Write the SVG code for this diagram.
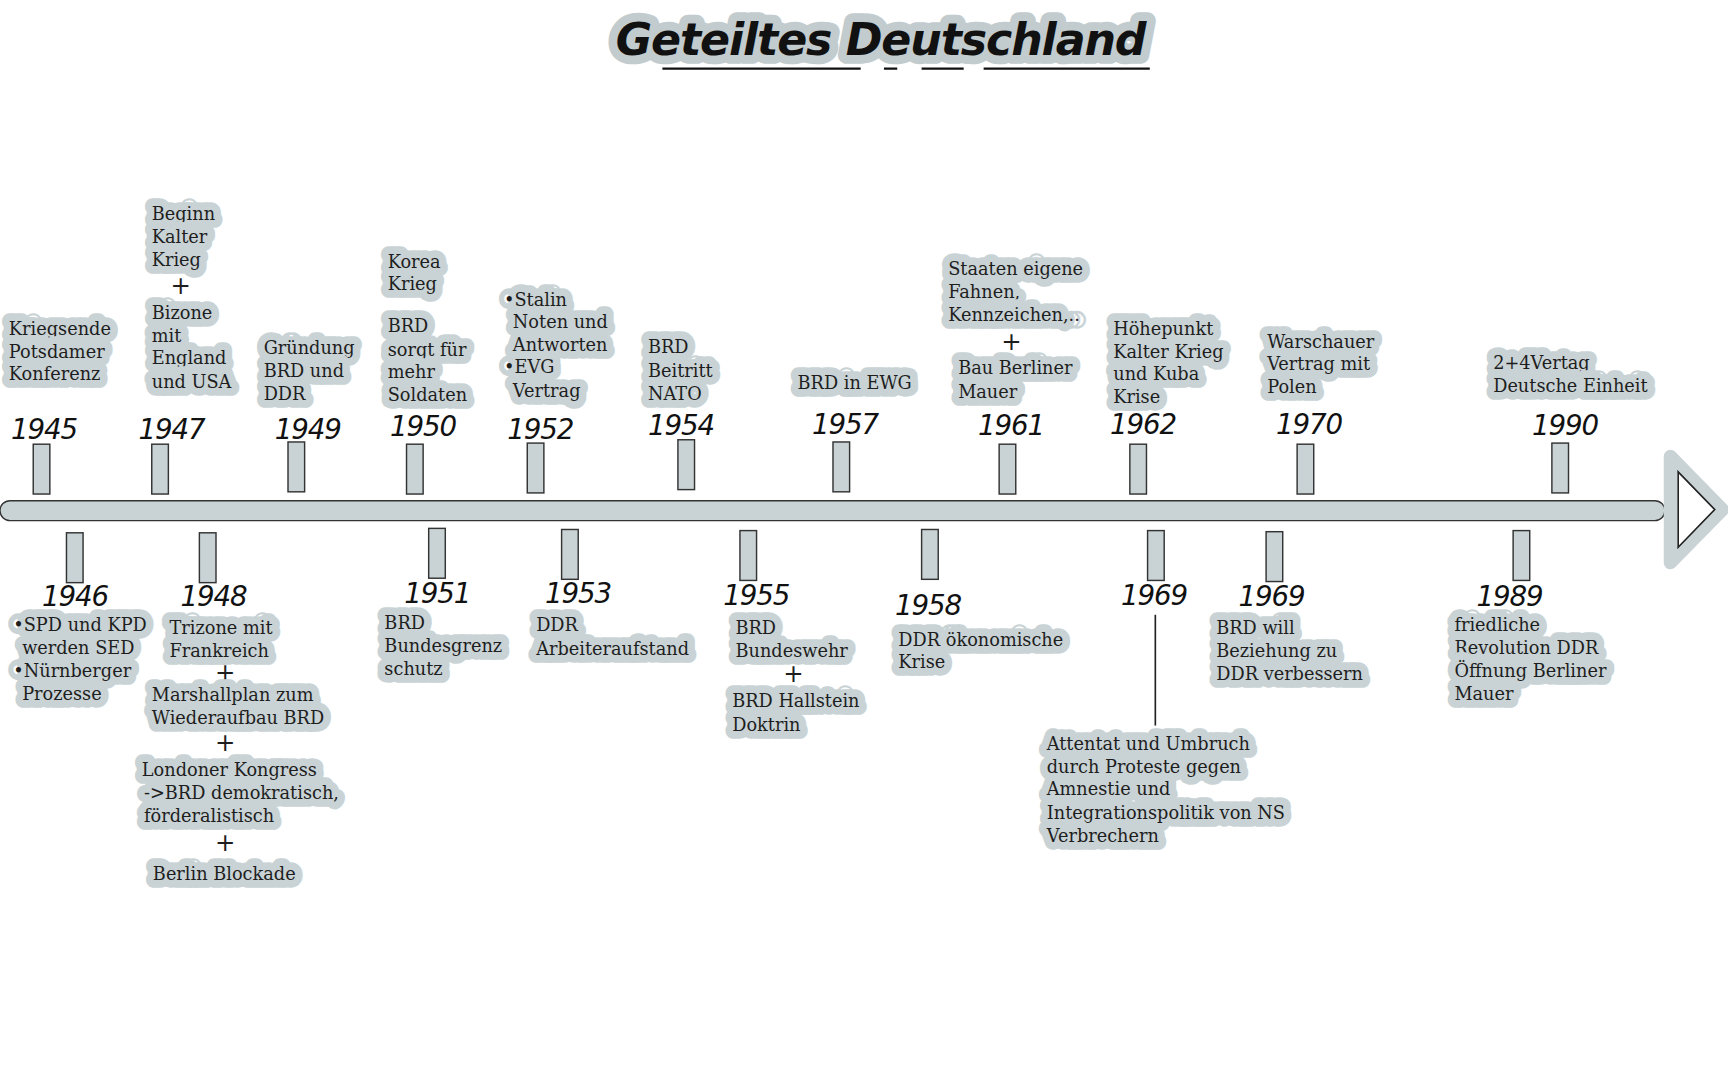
<svg xmlns="http://www.w3.org/2000/svg" width="1728" height="1080" viewBox="0 0 1728 1080">
<style>
.t{font-family:"DejaVu Serif",serif;font-size:16px;fill:#1e1e1e;stroke:#c9d3d5;stroke-width:14px;stroke-linejoin:round;paint-order:stroke}
.p{font-family:"DejaVu Sans",sans-serif;font-size:22px;fill:#1e1e1e}
.y{font-family:"DejaVu Sans",sans-serif;font-style:italic;font-size:25px;fill:#111;letter-spacing:-1px}
.b{fill:#c9d3d5;stroke:#333;stroke-width:1.3}
</style>
<rect width="1728" height="1080" fill="#fff"/>
<g transform="scale(1.1077)">
<g id="title">
<text x="795" y="50" text-anchor="middle" font-family="DejaVu Sans,sans-serif" font-style="italic" font-weight="bold" font-size="40" letter-spacing="-1" fill="#111" stroke="#c2cbcd" stroke-width="16" stroke-linejoin="round" paint-order="stroke">Geteiltes Deutschland</text>
<path d="M598 62H777M798 62H810M832 62H870M888 62H1038" stroke="#111" stroke-width="2" fill="none"/>
</g>
<g id="timeline">
<rect x="0" y="452" width="1503" height="18" rx="9" class="b"/>
<path d="M1508 412L1555 460L1508 508Z" fill="#fff" stroke="#c9d3d5" stroke-width="12" stroke-linejoin="round"/>
<path d="M1515 426L1548 460L1515 494Z" fill="#fff" stroke="#222" stroke-width="1.5"/>
</g>
<g id="connectors">
<line x1="1043" y1="555" x2="1043" y2="655" stroke="#222" stroke-width="1.5"/>
</g>
<g id="n1945"><rect x="30" y="401" width="15" height="45" class="b"/><text class="y" x="10" y="396">1945</text>
<text class="t" x="8" y="302">Kriegsende</text><text class="t" x="8" y="323">Potsdamer</text><text class="t" x="8" y="343">Konferenz</text></g>
<g id="n1947"><rect x="137" y="401" width="15" height="45" class="b"/><text class="y" x="125" y="396">1947</text>
<text class="t" x="137" y="199">Beginn</text><text class="t" x="137" y="219">Kalter</text><text class="t" x="137" y="240">Krieg</text><text class="p" x="154" y="265">+</text><text class="t" x="137" y="288">Bizone</text><text class="t" x="137" y="309">mit</text><text class="t" x="137" y="329">England</text><text class="t" x="137" y="350">und USA</text></g>
<g id="n1949"><rect x="260" y="399" width="15" height="45" class="b"/><text class="y" x="248" y="396">1949</text>
<text class="t" x="238" y="320">Gründung</text><text class="t" x="238" y="340">BRD und</text><text class="t" x="238" y="361">DDR</text></g>
<g id="n1950"><rect x="367" y="401" width="15" height="45" class="b"/><text class="y" x="352" y="394">1950</text>
<text class="t" x="350" y="242">Korea</text><text class="t" x="350" y="262">Krieg</text><text class="t" x="350" y="300">BRD</text><text class="t" x="350" y="321">sorgt für</text><text class="t" x="350" y="341">mehr</text><text class="t" x="350" y="362">Soldaten</text></g>
<g id="n1952"><rect x="476" y="400" width="15" height="45" class="b"/><text class="y" x="458" y="396">1952</text>
<text class="t" x="455" y="276">•Stalin</text><text class="t" x="463" y="296">Noten und</text><text class="t" x="463" y="317">Antworten</text><text class="t" x="455" y="337">•EVG</text><text class="t" x="463" y="358">Vertrag</text></g>
<g id="n1954"><rect x="612" y="397" width="15" height="45" class="b"/><text class="y" x="585" y="393">1954</text>
<text class="t" x="585" y="319">BRD</text><text class="t" x="585" y="340">Beitritt</text><text class="t" x="585" y="361">NATO</text></g>
<g id="n1957"><rect x="752" y="399" width="15" height="45" class="b"/><text class="y" x="733" y="392">1957</text>
<text class="t" x="720" y="351">BRD in EWG</text></g>
<g id="n1961"><rect x="902" y="401" width="15" height="45" class="b"/><text class="y" x="883" y="393">1961</text>
<text class="t" x="856" y="248">Staaten eigene</text><text class="t" x="856" y="269">Fahnen,</text><text class="t" x="856" y="290">Kennzeichen,..</text><text class="p" x="904" y="316">+</text><text class="t" x="865" y="338">Bau Berliner</text><text class="t" x="865" y="359">Mauer</text></g>
<g id="n1962"><rect x="1020" y="401" width="15" height="45" class="b"/><text class="y" x="1002" y="392">1962</text>
<text class="t" x="1005" y="302">Höhepunkt</text><text class="t" x="1005" y="323">Kalter Krieg</text><text class="t" x="1005" y="343">und Kuba</text><text class="t" x="1005" y="364">Krise</text></g>
<g id="n1970"><rect x="1171" y="401" width="15" height="45" class="b"/><text class="y" x="1152" y="392">1970</text>
<text class="t" x="1144" y="314">Warschauer</text><text class="t" x="1144" y="334">Vertrag mit</text><text class="t" x="1144" y="355">Polen</text></g>
<g id="n1990"><rect x="1401" y="400" width="15" height="45" class="b"/><text class="y" x="1383" y="393">1990</text>
<text class="t" x="1348" y="333">2+4Vertag</text><text class="t" x="1348" y="354">Deutsche Einheit</text></g>
<g id="n1946"><rect x="60" y="481" width="15" height="45" class="b"/><text class="y" x="38" y="547">1946</text>
<text class="t" x="12" y="570">•SPD und KPD</text><text class="t" x="20" y="590">werden SED</text><text class="t" x="12" y="611">•Nürnberger</text><text class="t" x="20" y="632">Prozesse</text></g>
<g id="n1948"><rect x="180" y="481" width="15" height="45" class="b"/><text class="y" x="163" y="547">1948</text>
<text class="t" x="153" y="572">Trizone mit</text><text class="t" x="153" y="593">Frankreich</text><text class="p" x="194" y="615">+</text><text class="t" x="137" y="633">Marshallplan zum</text><text class="t" x="137" y="654">Wiederaufbau BRD</text><text class="p" x="194" y="678">+</text><text class="t" x="128" y="701">Londoner Kongress</text><text class="t" x="130" y="721">-&gt;BRD demokratisch,</text><text class="t" x="130" y="742">förderalistisch</text><text class="p" x="194" y="768">+</text><text class="t" x="138" y="794">Berlin Blockade</text></g>
<g id="n1951"><rect x="387" y="477" width="15" height="45" class="b"/><text class="y" x="365" y="544">1951</text>
<text class="t" x="347" y="568">BRD</text><text class="t" x="347" y="589">Bundesgrenz</text><text class="t" x="347" y="609">schutz</text></g>
<g id="n1953"><rect x="507" y="478" width="15" height="45" class="b"/><text class="y" x="492" y="544">1953</text>
<text class="t" x="484" y="570">DDR</text><text class="t" x="484" y="591">Arbeiteraufstand</text></g>
<g id="n1955"><rect x="668" y="479" width="15" height="45" class="b"/><text class="y" x="653" y="546">1955</text>
<text class="t" x="664" y="572">BRD</text><text class="t" x="664" y="593">Bundeswehr</text><text class="p" x="707" y="616">+</text><text class="t" x="661" y="638">BRD Hallstein</text><text class="t" x="661" y="660">Doktrin</text></g>
<g id="n1958"><rect x="832" y="478" width="15" height="45" class="b"/><text class="y" x="808" y="555">1958</text>
<text class="t" x="811" y="583">DDR ökonomische</text><text class="t" x="811" y="603">Krise</text></g>
<g id="n1969a"><rect x="1036" y="479" width="15" height="45" class="b"/><text class="y" x="1012" y="546">1969</text>
<text class="t" x="945" y="677">Attentat und Umbruch</text><text class="t" x="945" y="698">durch Proteste gegen</text><text class="t" x="945" y="718">Amnestie und</text><text class="t" x="945" y="739">Integrationspolitik von NS</text><text class="t" x="945" y="760">Verbrechern</text></g>
<g id="n1969b"><rect x="1143" y="480" width="15" height="45" class="b"/><text class="y" x="1118" y="547">1969</text>
<text class="t" x="1098" y="572">BRD will</text><text class="t" x="1098" y="593">Beziehung zu</text><text class="t" x="1098" y="614">DDR verbessern</text></g>
<g id="n1989"><rect x="1366" y="479" width="15" height="45" class="b"/><text class="y" x="1333" y="547">1989</text>
<text class="t" x="1313" y="570">friedliche</text><text class="t" x="1313" y="590">Revolution DDR</text><text class="t" x="1313" y="611">Öffnung Berliner</text><text class="t" x="1313" y="632">Mauer</text></g>
</g>
</svg>
